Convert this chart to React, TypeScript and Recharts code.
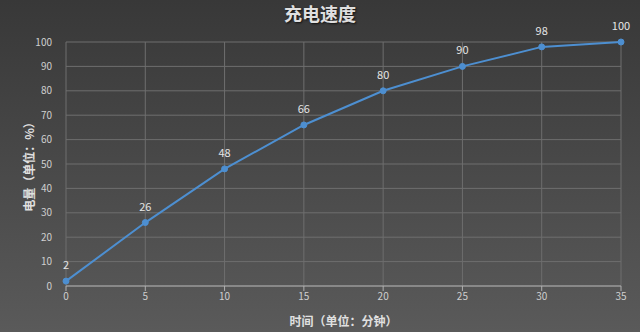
import React from 'react';
import { LineChart, Line, XAxis, YAxis, CartesianGrid, LabelList } from 'recharts';

const minutes = [0, 5, 10, 15, 20, 25, 30, 35];
const charge = [2, 26, 48, 66, 80, 90, 98, 100];
const yTicks = [0, 10, 20, 30, 40, 50, 60, 70, 80, 90, 100];

const data = minutes.map((m, i) => ({ time: m, charge: charge[i] }));

const FONT = '"Noto Sans CJK SC", "Noto Sans", sans-serif';

const App: React.FC = () => {
  return (
    <div
      style={{
        position: 'fixed',
        left: 0,
        top: 0,
        width: 640,
        height: 332,
        background: 'linear-gradient(to bottom, #383838 0%, #474747 45%, #5a5a5a 100%)',
        fontFamily: FONT,
      }}
    >
      <div
        style={{
          position: 'absolute',
          left: 0,
          top: 2,
          width: 640,
          textAlign: 'center',
          fontSize: 18,
          fontWeight: 'bold',
          color: '#e0e0e0',
          lineHeight: '22px',
          textShadow: '1px 1px 2px #111',
        }}
      >
        充电速度
      </div>
      <LineChart
        width={640}
        height={332}
        data={data}
        margin={{ top: 42, right: 19, left: 6, bottom: 16 }}
        style={{ position: 'absolute', left: 0, top: 0 }}
      >
        <CartesianGrid stroke="#6e6e6e" strokeWidth={1} />
        <XAxis
          dataKey="time"
          type="number"
          domain={[0, 35]}
          ticks={minutes}
          stroke="#b0b0b0"
          tickSize={5}
          tick={{ fill: '#cfcfcf', fontSize: 10, fontFamily: FONT }}
          label={{
            value: '时间（单位：分钟）',
            position: 'insideBottom',
            offset: -10,
            fill: '#e0e0e0',
            fontSize: 12,
            fontWeight: 'bold',
            fontFamily: FONT,
          }}
        />
        <YAxis
          type="number"
          domain={[0, 100]}
          ticks={yTicks}
          axisLine={false}
          tickLine={false}
          tickMargin={8}
          width={60}
          tick={{ fill: '#cfcfcf', fontSize: 10, fontFamily: FONT }}
          label={{
            value: '电量（单位：%）',
            angle: -90,
            position: 'insideLeft',
            offset: 24,
            style: { textAnchor: 'middle' },
            fill: '#e0e0e0',
            fontSize: 12,
            fontWeight: 'bold',
            fontFamily: FONT,
          }}
        />
        <Line
          type="linear"
          dataKey="charge"
          stroke="#4d8fd1"
          strokeWidth={2}
          dot={{ r: 3, fill: '#4d8fd1', stroke: '#4d8fd1', strokeWidth: 1 }}
          isAnimationActive={false}
        >
          <LabelList
            dataKey="charge"
            position="top"
            offset={12}
            fill="#e6e6e6"
            fontSize={11}
            fontFamily={FONT}
          />
        </Line>
      </LineChart>
    </div>
  );
};

export default App;
